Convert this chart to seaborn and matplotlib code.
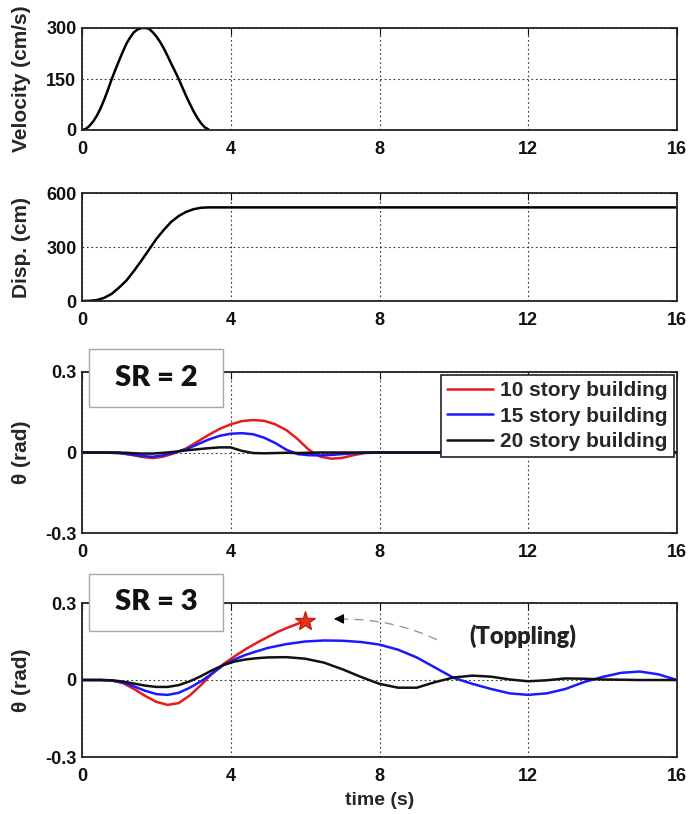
import matplotlib
matplotlib.use("Agg")
import matplotlib.pyplot as plt
from matplotlib.patches import Rectangle
import seaborn as sns

# ---- data ----
t_vel = [0, 0.1, 0.2, 0.3, 0.4, 0.5, 0.6, 0.7, 0.8, 0.9, 1.0, 1.1, 1.2, 1.3, 1.4, 1.5, 1.6, 1.7,
         1.8, 1.9, 2.0, 2.1, 2.2, 2.3, 2.4, 2.5, 2.6, 2.7, 2.8, 2.9, 3.0, 3.1, 3.2, 3.3, 3.4]
velocity = [0, 3, 12, 25, 42, 64, 90, 119, 150, 178, 205, 231, 255, 273, 288, 296, 300, 300,
            298, 288, 275, 259, 240, 218, 195, 173, 150, 125, 100, 77, 55, 36, 20, 8, 2]

t_disp = [0, 0.2, 0.4, 0.6, 0.8, 1.0, 1.2, 1.4, 1.6, 1.8, 2.0, 2.2, 2.4, 2.6, 2.8, 3.0, 3.2, 3.4, 16]
disp = [0, 1, 5, 18, 40, 75, 115, 168, 225, 285, 345, 395, 440, 472, 495, 510, 518, 520, 520]

t_sr2 = [0, 0.5, 1.0, 1.3, 1.6, 1.9, 2.2, 2.5, 2.8, 3.1, 3.4, 3.7, 4.0, 4.3, 4.6, 4.9,
         5.2, 5.5, 5.8, 6.1, 6.4, 6.7, 7.0, 7.3, 7.6, 8.0, 16]
sr2_10 = [0, 0, -0.002, -0.008, -0.016, -0.021, -0.015, -0.002, 0.015, 0.040, 0.065, 0.088, 0.105,
          0.117, 0.121, 0.118, 0.105, 0.083, 0.050, 0.010, -0.015, -0.023, -0.020, -0.010, -0.002, 0, 0]
sr2_15 = [0, 0, -0.002, -0.007, -0.013, -0.016, -0.010, 0.000, 0.012, 0.030, 0.048, 0.062, 0.070,
          0.072, 0.068, 0.055, 0.035, 0.010, -0.006, -0.010, -0.011, -0.009, -0.006, -0.003, -0.001, 0, 0]
sr2_20 = [0, 0, 0, -0.002, -0.004, -0.004, -0.001, 0.003, 0.008, 0.012, 0.016, 0.019, 0.019,
          0.006, -0.002, -0.003, -0.002, -0.001, -0.002, -0.001, 0, 0, 0, 0, 0, 0, 0]

t_sr3_10 = [0, 0.5, 0.8, 1.1, 1.4, 1.7, 2.0, 2.3, 2.6, 2.9, 3.2, 3.5, 3.8, 4.1, 4.4, 4.7, 5.0, 5.3, 5.6, 6.0]
sr3_10 = [0, 0, -0.002, -0.012, -0.035, -0.062, -0.085, -0.097, -0.090, -0.060, -0.020, 0.025,
          0.062, 0.092, 0.120, 0.145, 0.168, 0.190, 0.208, 0.230]

t_sr3 = [0, 0.5, 0.8, 1.1, 1.4, 1.7, 2.0, 2.3, 2.6, 2.9, 3.2, 3.5, 3.8, 4.1, 4.4, 4.7, 5.0, 5.5,
         6.0, 6.5, 7.0, 7.5, 8.0, 8.5, 9.0, 9.5, 10.0, 10.5, 11.0, 11.5, 12.0, 12.5, 13.0, 13.5,
         14.0, 14.5, 15.0, 15.5, 16.0]
sr3_15 = [0, 0, -0.002, -0.010, -0.025, -0.042, -0.055, -0.058, -0.050, -0.030, -0.005, 0.025,
          0.058, 0.080, 0.098, 0.112, 0.125, 0.140, 0.150, 0.154, 0.153, 0.148, 0.138, 0.118,
          0.088, 0.048, 0.008, -0.015, -0.035, -0.052, -0.058, -0.052, -0.035, -0.008, 0.012,
          0.028, 0.033, 0.022, 0.0]
sr3_20 = [0, 0, -0.001, -0.006, -0.014, -0.022, -0.027, -0.027, -0.020, -0.005, 0.015, 0.038,
          0.058, 0.072, 0.080, 0.085, 0.088, 0.089, 0.083, 0.068, 0.042, 0.012, -0.015, -0.030,
          -0.030, -0.008, 0.010, 0.017, 0.013, 0.002, -0.005, -0.001, 0.006, 0.005, 0.002,
          0.001, 0.0, 0.0, 0.0]

topple_t, topple_theta = 6.0, 0.230
labels = ["10 story building", "15 story building", "20 story building"]
colors = ["#e81a1a", "#1a1aff", "#111111"]
x_ticks = [0, 4, 8, 12, 16]

# ---- style ----
sns.set_style("white")
plt.rcParams.update({
    "font.family": ["Liberation Sans", "DejaVu Sans"],
    "font.weight": "bold",
    "axes.labelweight": "bold",
    "axes.linewidth": 1.3,
    "axes.edgecolor": "#222222",
    "xtick.direction": "in",
    "ytick.direction": "in",
    "xtick.top": True,
    "ytick.right": True,
    "xtick.major.size": 5,
    "ytick.major.size": 5,
    "xtick.major.pad": 8,
    "ytick.major.pad": 4,
    "xtick.labelsize": 13,
    "ytick.labelsize": 13,
})

fig = plt.figure(figsize=(6.91, 8.14), dpi=100)
W, H = 691, 814


def add_axes(top, bottom):
    return fig.add_axes([82 / W, 1 - bottom / H, 595 / W, (bottom - top) / H])


ax1 = add_axes(28, 130)
ax2 = add_axes(193, 301)
ax3 = add_axes(372, 533)
ax4 = add_axes(603, 757)

lw = 1.8
sns.lineplot(x=t_vel, y=velocity, ax=ax1, color="black", lw=lw)
sns.lineplot(x=t_disp, y=disp, ax=ax2, color="black", lw=lw)

for vals, lab, c in zip([sr2_10, sr2_15, sr2_20], labels, colors):
    sns.lineplot(x=t_sr2, y=vals, ax=ax3, color=c, lw=lw, label=lab)

sns.lineplot(x=t_sr3_10, y=sr3_10, ax=ax4, color=colors[0], lw=lw)
sns.lineplot(x=t_sr3, y=sr3_15, ax=ax4, color=colors[1], lw=lw)
sns.lineplot(x=t_sr3, y=sr3_20, ax=ax4, color=colors[2], lw=lw)
ax4.plot(topple_t, topple_theta, marker="*", ms=15, color="#e8321a", mec="#c02010", zorder=5)

ax1.set_ylim(0, 300)
ax1.set_yticks([0, 150, 300])
ax1.set_ylabel("Velocity (cm/s)", fontsize=15)
ax2.set_ylim(0, 600)
ax2.set_yticks([0, 300, 600])
ax2.set_ylabel("Disp. (cm)", fontsize=15)
for ax in (ax3, ax4):
    ax.set_ylim(-0.3, 0.3)
    ax.set_yticks([-0.3, 0, 0.3])
    ax.set_yticklabels(["-0.3", "0", "0.3"])
    ax.set_ylabel("θ (rad)", fontsize=15)

for ax in (ax1, ax2, ax3, ax4):
    ax.set_xlim(0, 16)
    ax.set_xticks(x_ticks)
    ax.grid(True, linestyle=(0, (1.5, 2.5)), color="#333333", linewidth=0.8)
    ax.yaxis.set_label_coords(-0.085, 0.5)
    for s in ax.spines.values():
        s.set_visible(True)
        s.set_color("#222222")
    ax.tick_params(colors="#111111")
    for lab in ax.get_xticklabels() + ax.get_yticklabels():
        lab.set_fontweight("bold")

ax4.set_xlabel("time (s)", fontsize=14, labelpad=5)

leg = ax3.legend(loc="upper right", bbox_to_anchor=(1.0, 1.0), borderaxespad=0.15,
                 fontsize=15, frameon=True, fancybox=False, framealpha=1,
                 edgecolor="#222222", handlelength=2.2, handletextpad=0.35,
                 labelspacing=0.3, borderpad=0.3)
leg.get_frame().set_linewidth(1.2)
for txt in leg.get_texts():
    txt.set_fontweight("bold")

# toppling annotation
ax4.annotate("", xy=(6.95, 0.237), xytext=(9.6, 0.153),
             arrowprops=dict(arrowstyle="-", linestyle=(0, (6, 5)), color="#9a9a9a",
                             lw=1.0, connectionstyle="arc3,rad=0.12"))
ax4.annotate("", xy=(6.7, 0.238), xytext=(7.0, 0.238),
             arrowprops=dict(arrowstyle="-|>,head_length=0.6,head_width=0.3",
                             color="black", lw=0.8))
ax4.text(11.85, 0.17, "(Toppling)", ha="center", va="center", fontsize=17,
         family=["Lato", "DejaVu Sans"], fontweight="heavy", color="#222222")

# SR boxes overlapping the top of the theta panels
for (top, bottom), txt in zip([(349, 407), (574, 631)], ["SR = 2", "SR = 3"]):
    fig.add_artist(Rectangle((89 / W, 1 - bottom / H), 134 / W, (bottom - top) / H,
                             transform=fig.transFigure, facecolor="white",
                             edgecolor="#a8a8a8", lw=1.0, zorder=3))
    fig.text(156 / W, 1 - (top + bottom) / 2 / H, txt, ha="center", va="center",
             fontsize=21, family=["Lato", "DejaVu Sans"], fontweight="heavy",
             color="#111111", zorder=4)

fig.savefig("out.png", dpi=100)
